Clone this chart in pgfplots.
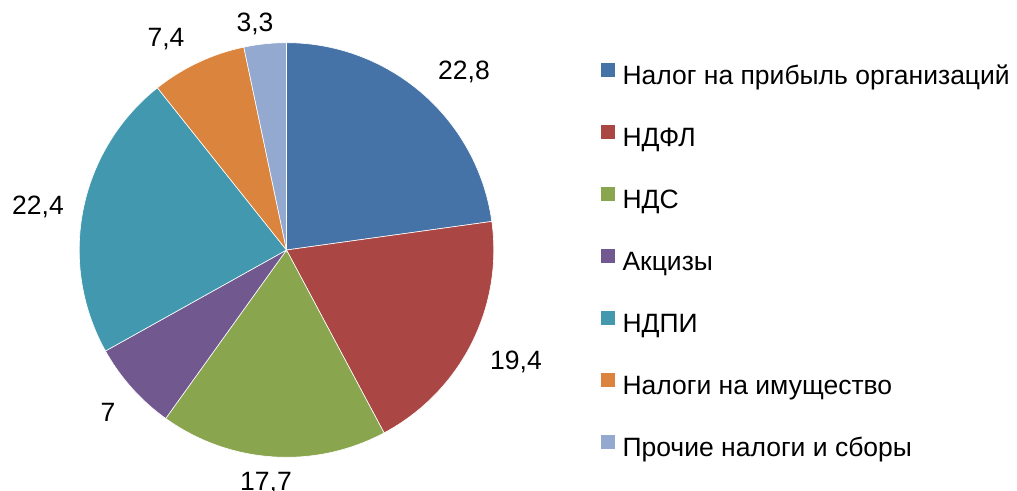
\documentclass[border=0pt]{standalone}
\usepackage{fontspec}
\setmainfont{Liberation Sans}
\usepackage{pgfplots}
\pgfplotsset{compat=1.18}
\definecolor{c1}{HTML}{4572A7}
\definecolor{c2}{HTML}{AA4643}
\definecolor{c3}{HTML}{89A54E}
\definecolor{c4}{HTML}{71588F}
\definecolor{c5}{HTML}{4198AF}
\definecolor{c6}{HTML}{DB843D}
\definecolor{c7}{HTML}{93A9CF}
% values (percent): 22.8 19.4 17.7 7 22.4 7.4 3.3
\def\cx{286.5}
\def\cy{240}
\def\rr{207.3}
\begin{document}
\begin{tikzpicture}
\useasboundingbox (0,0) rectangle (1017pt,490pt);
\begin{axis}[
  x=1pt, y=1pt, xmin=0, xmax=1017, ymin=0, ymax=490,
  hide axis, clip=false,
  every axis plot/.append style={draw=white, line width=0.6pt, samples=60},
  legend image code/.code={\fill[#1, draw=none] (0pt,1.5pt) rectangle (14pt,15.5pt);},
  legend cell align=left,
  legend style={at={(axis cs:601,427.3)}, anchor=north west, draw=none, fill=none,
    inner sep=0pt, outer sep=0pt, row sep=34pt, column sep=7.5pt,
    font=\fontsize{26.5}{30}\selectfont,
    nodes={inner sep=0pt, text height=19pt, text depth=6pt}},
]
\addplot[fill=c1, domain={90-3.6*(22.8)}:{90}] ({\cx+\rr*cos(x)},{\cy+\rr*sin(x)}) -- (axis cs:\cx,\cy) -- cycle;
\addlegendentry{Налог на прибыль организаций}
\addplot[fill=c2, domain={90-3.6*(22.8+19.4)}:{90-3.6*(22.8)}] ({\cx+\rr*cos(x)},{\cy+\rr*sin(x)}) -- (axis cs:\cx,\cy) -- cycle;
\addlegendentry{НДФЛ}
\addplot[fill=c3, domain={90-3.6*(22.8+19.4+17.7)}:{90-3.6*(22.8+19.4)}] ({\cx+\rr*cos(x)},{\cy+\rr*sin(x)}) -- (axis cs:\cx,\cy) -- cycle;
\addlegendentry{НДС}
\addplot[fill=c4, domain={90-3.6*(22.8+19.4+17.7+7)}:{90-3.6*(22.8+19.4+17.7)}] ({\cx+\rr*cos(x)},{\cy+\rr*sin(x)}) -- (axis cs:\cx,\cy) -- cycle;
\addlegendentry{Акцизы}
\addplot[fill=c5, domain={90-3.6*(22.8+19.4+17.7+7+22.4)}:{90-3.6*(22.8+19.4+17.7+7)}] ({\cx+\rr*cos(x)},{\cy+\rr*sin(x)}) -- (axis cs:\cx,\cy) -- cycle;
\addlegendentry{НДПИ}
\addplot[fill=c6, domain={90-3.6*(22.8+19.4+17.7+7+22.4+7.4)}:{90-3.6*(22.8+19.4+17.7+7+22.4)}] ({\cx+\rr*cos(x)},{\cy+\rr*sin(x)}) -- (axis cs:\cx,\cy) -- cycle;
\addlegendentry{Налоги на имущество}
\addplot[fill=c7, domain={90-3.6*(22.8+19.4+17.7+7+22.4+7.4+3.3)}:{90-3.6*(22.8+19.4+17.7+7+22.4+7.4)}] ({\cx+\rr*cos(x)},{\cy+\rr*sin(x)}) -- (axis cs:\cx,\cy) -- cycle;
\addlegendentry{Прочие налоги и сборы}
\begin{scope}[every node/.style={anchor=base, inner sep=0pt, font=\fontsize{26.5}{30}\selectfont}]
\node at (axis cs:464,410) {22,8};
\node at (axis cs:516,120) {19,4};
\node at (axis cs:266,0) {17,7};
\node at (axis cs:108,68) {7};
\node at (axis cs:38,275) {22,4};
\node at (axis cs:166,443) {7,4};
\node at (axis cs:255,458) {3,3};
\end{scope}
\end{axis}
\end{tikzpicture}
\end{document}
